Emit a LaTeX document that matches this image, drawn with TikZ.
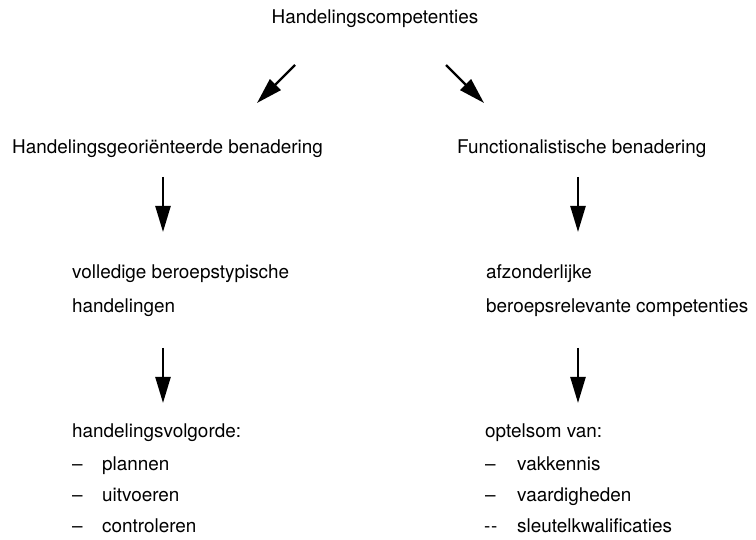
\documentclass[tikz,border=0pt]{standalone}
\usepackage{fontspec}
\setmainfont{TeX Gyre Heros}
\usetikzlibrary{arrows.meta}
\begin{document}
\begin{tikzpicture}[x=1pt,y=-1pt,
  lbl/.style={inner sep=0pt,anchor=base west,font=\fontsize{18.9}{22}\selectfont},
  flow/.style={line width=2.4pt,-{Triangle[length=26pt,width=15pt]}}]
\useasboundingbox (0,0) rectangle (756,540);

% top
\node[lbl,anchor=base] (top) at (375,24) {Handelingscompetenties};

% two approaches
\node[lbl] (hg) at (12,154) {Handelingsgeori\"enteerde benadering};
\node[lbl] (fb) at (457,154) {Functionalistische benadering};

% second level
\node[lbl] (l3a) at (72,279) {volledige beroepstypische};
\node[lbl] (l3b) at (72,313) {handelingen};
\node[lbl] (r3a) at (486,279) {afzonderlijke};
\node[lbl] (r3b) at (486,313) {beroepsrelevante competenties};

% third level, left
\node[lbl] (l4) at (72,438) {handelingsvolgorde:};
\node[lbl] (l4d1) at (72,470) {–};
\node[lbl] (l4i1) at (102,470) {plannen};
\node[lbl] (l4d2) at (72,501) {–};
\node[lbl] (l4i2) at (102,501) {uitvoeren};
\node[lbl] (l4d3) at (72,532) {–};
\node[lbl] (l4i3) at (102,532) {controleren};

% third level, right
\node[lbl] (r4) at (485,438) {optelsom van:};
\node[lbl] (r4d1) at (485,470) {–};
\node[lbl] (r4i1) at (517,470) {vakkennis};
\node[lbl] (r4d2) at (485,501) {–};
\node[lbl] (r4i2) at (517,501) {vaardigheden};
\node[lbl] (r4d3) at (484,532) {-\kern0.6pt-};
\node[lbl] (r4i3) at (517,532) {sleutelkwalificaties};

% arrow ends
\coordinate (a1s) at (295,65);  \coordinate (a1e) at (257,103);
\coordinate (a2s) at (446,65);  \coordinate (a2e) at (484,103);
\coordinate (a3s) at (163,177); \coordinate (a3e) at (163,232);
\coordinate (a4s) at (578,177); \coordinate (a4e) at (578,232);
\coordinate (a5s) at (163,348); \coordinate (a5e) at (163,403);
\coordinate (a6s) at (578,348); \coordinate (a6e) at (578,403);

\draw[flow] (a1s) -- (a1e);
\draw[flow] (a2s) -- (a2e);
\draw[flow] (a3s) -- (a3e);
\draw[flow] (a4s) -- (a4e);
\draw[flow] (a5s) -- (a5e);
\draw[flow] (a6s) -- (a6e);
\end{tikzpicture}
\end{document}
